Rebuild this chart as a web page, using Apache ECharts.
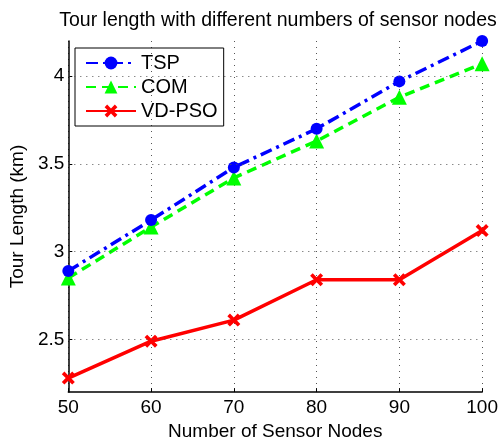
<!DOCTYPE html>
<html>
<head>
<meta charset="utf-8">
<script src="https://cdn.jsdelivr.net/npm/echarts@6/dist/echarts.min.js"></script>
<style>
html, body { margin: 0; padding: 0; background: #fff; }
#chart { width: 501px; height: 446px; }
</style>
</head>
<body>
<div id="chart"></div>
<script>
// values
var nodes = [50, 60, 70, 80, 90, 100];
var tsp = [2.89, 3.18, 3.48, 3.70, 3.97, 4.20];
var com = [2.85, 3.14, 3.42, 3.63, 3.88, 4.07];
var vdpso = [2.28, 2.49, 2.61, 2.84, 2.84, 3.12];
var yTicks = [2.5, 3, 3.5, 4];

var font = 'Liberation Sans, Arial, sans-serif';
var crossPath = 'path://M2,0 L5,3 L8,0 L10,2 L7,5 L10,8 L8,10 L5,7 L2,10 L0,8 L3,5 L0,2 Z';

function pairs(vals) {
    return nodes.map(function (n, i) { return [n, vals[i]]; });
}

var chart = echarts.init(document.getElementById('chart'));
var option = {
    animation: false,
    textStyle: { fontFamily: font },
    title: {
        text: 'Tour length with different numbers of sensor nodes',
        left: 273, top: 6, textAlign: 'center',
        textStyle: { fontSize: 19.5, fontWeight: 'normal', color: '#000', fontFamily: font }
    },
    legend: {
        left: 75, top: 48, orient: 'vertical',
        borderColor: '#000', borderWidth: 1,
        padding: [5, 6, 5, 10],
        itemWidth: 50, itemHeight: 16, itemGap: 4,
        textStyle: { fontSize: 20, color: '#000', fontFamily: font },
        data: ['TSP', 'COM', 'VD-PSO']
    },
    grid: { left: 67, right: 15, top: 41, bottom: 51 },
    xAxis: {
        type: 'value', min: 50, max: 100, interval: 10,
        name: 'Number of Sensor Nodes', nameLocation: 'middle', nameGap: 28,
        nameTextStyle: { fontSize: 19, color: '#000', fontFamily: font },
        axisLine: { lineStyle: { color: '#000', width: 1.5 } },
        axisTick: { inside: true, length: 4, lineStyle: { color: '#000' } },
        axisLabel: { fontSize: 19, color: '#000', margin: 6, fontFamily: font },
        splitLine: { show: true, lineStyle: { type: [1, 5], color: '#555', width: 1 } }
    },
    yAxis: {
        type: 'value', min: 2.2, max: 4.2,
        name: 'Tour Length (km)', nameLocation: 'middle', nameGap: 40,
        nameTextStyle: { fontSize: 19, color: '#000', fontFamily: font },
        axisLine: { show: true, lineStyle: { color: '#000', width: 1.5 } },
        axisTick: { show: true, inside: true, length: 4, customValues: yTicks, lineStyle: { color: '#000' } },
        axisLabel: { fontSize: 19, color: '#000', margin: 4, customValues: yTicks, fontFamily: font },
        splitLine: { show: false }
    },
    series: [
        {
            name: 'TSP', type: 'line', data: pairs(tsp), z: 3,
            symbol: 'circle', symbolSize: 12,
            itemStyle: { color: '#0000ff' },
            lineStyle: { color: '#0000ff', width: 3.5, type: [12, 5, 3, 5] },
            markLine: {
                silent: true, symbol: 'none', label: { show: false },
                lineStyle: { type: [1, 5], color: '#555', width: 1 },
                data: yTicks.map(function (v) { return { yAxis: v }; })
            }
        },
        {
            name: 'COM', type: 'line', data: pairs(com), z: 2,
            symbol: 'triangle', symbolSize: 15,
            itemStyle: { color: '#00ff00' },
            lineStyle: { color: '#00ff00', width: 3.5, type: [10, 6] }
        },
        {
            name: 'VD-PSO', type: 'line', data: pairs(vdpso), z: 4,
            symbol: crossPath, symbolSize: 13,
            itemStyle: { color: '#ff0000' },
            lineStyle: { color: '#ff0000', width: 3.5, type: 'solid' }
        }
    ]
};
chart.setOption(option);
</script>
</body>
</html>
